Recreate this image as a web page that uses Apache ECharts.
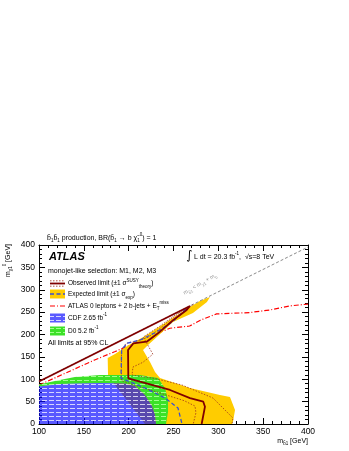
<!DOCTYPE html>
<html>
<head>
<meta charset="utf-8">
<script src="https://cdn.jsdelivr.net/npm/echarts@6/dist/echarts.min.js"></script>
<style>
html, body { margin: 0; padding: 0; background: #fff; }
#chart { width: 349px; height: 451px; }
</style>
</head>
<body>
<div id="chart"></div>
<script>
// axis ranges (GeV)
var xMin = 100, xMax = 400, xStep = 50;
var yMin = 0, yMax = 400, yStep = 50;

// kinematic boundary m_b1 = m_chi + m_b
var kinematic = [[100, 95.5], [400, 395.5]];

// observed limit (runs along the diagonal, then the contour)
var observed = [[100, 95], [268.4, 263.7], [264.7, 254.7], [249.8, 232.4], [234.9, 206.3],
    [227.5, 195.1], [220.1, 183.9], [205.2, 180.3], [199.3, 165.4], [199.6, 102.1],
    [212.6, 94.5], [246.1, 76], [268.4, 58], [283.2, 49.8], [285.1, 38.7], [281.4, 0]];
var theoryUp = [[272, 267], [251.7, 243.6], [235, 219], [216.3, 194.4], [227, 156],
    [216, 138], [204.8, 127.4], [203.7, 109.5], [229.4, 101.7], [259.5, 87.1],
    [294, 58.1], [316.3, 13.4], [315.2, 0]];
var theoryDown = [[262, 255], [248, 236], [234, 212], [222, 194], [210, 186], [197, 180],
    [192, 165], [192, 97], [208, 86], [240, 66], [262, 52], [274, 40], [275, 25], [272, 0]];

// expected limit and its +-1 sigma band
var expected = [[263.9, 257], [249.8, 230.2], [231.3, 205.6], [212.6, 187.7], [198.1, 180.3],
    [192.2, 165.4], [191.4, 102.8], [218.2, 80.4], [240.5, 58.1], [255, 35.8], [259.5, 0]];
var expBand = [[290.7, 283.8], [287.3, 272.6], [271.7, 248], [249.4, 228], [233, 197],
    [221.6, 176.5], [216, 165.4], [223.8, 138.5], [229.4, 116.2], [234.9, 102.8],
    [251.7, 91.6], [268.4, 80.4], [301.8, 64.8], [313, 60.3], [318.6, 31.3], [316.3, 4.5],
    [315.2, 0], [218.2, 0], [184.8, 87.2], [177, 107.3], [176.6, 147.5], [184.8, 156.4],
    [199.3, 175.4], [218.2, 196.6], [240.5, 225.6], [262.8, 254.7], [279.5, 274.8]];

// ATLAS 0 lepton + 2 b-jets
var atlas0l = [[100, 87], [162, 143], [185, 162], [246, 214], [268, 219], [280, 232],
    [298, 246], [335, 249], [358, 255], [380, 264], [400, 268]];

// Tevatron limits
var d0Area = [[100, 88], [117.8, 96], [140, 105], [168, 109.5], [212.6, 109.5], [232.7, 102.8],
    [240.5, 80.4], [243.9, 53.6], [243.9, 26.8], [241.6, 0]];
var cdfArea = [[100, 84], [123.4, 89.4], [168, 91.6], [195.9, 90.5], [207.1, 84.9],
    [218.2, 64.8], [226, 40.2], [229.4, 20.1], [230.5, 0]];

var FONT = '"Liberation Sans", Arial, sans-serif';
var brown = '#800000', theoryCol = '#a0301a', blueLine = '#3a4fd0', yellow = '#ffcc00';

function hatch(bg, line, w, h) {
    var c = document.createElement('canvas');
    c.width = w; c.height = h;
    var g = c.getContext('2d');
    g.fillStyle = bg; g.fillRect(0, 0, w, h);
    g.fillStyle = line; g.fillRect(0, 0, w - 2, 1);
    return { image: c, repeat: 'repeat' };
}
var cdfFill = hatch('rgba(10,10,255,0.68)', 'rgba(255,255,255,0.75)', 7, 4);
var d0Fill = hatch('rgb(60,225,40)', 'rgb(160,255,140)', 7, 4);

function polygon(points, fill, z) {
    return {
        type: 'custom', z: z, silent: true, animation: false,
        data: [[250, 200]],
        renderItem: function (params, api) {
            var pts = points.map(function (p) { return api.coord(p); });
            return { type: 'polygon', shape: { points: pts }, style: { fill: fill, stroke: null } };
        }
    };
}
function line(data, color, width, type, z) {
    return {
        type: 'line', data: data, symbol: 'none', z: z, silent: true, animation: false,
        lineStyle: { color: color, width: width, type: type }
    };
}

var dom = document.getElementById('chart');
var myChart = echarts.init(dom, null, { renderer: 'canvas' });

var tickStyle = { inside: true, length: 6, lineStyle: { color: '#000', width: 1 } };
var minorStyle = { show: true, splitNumber: 5, length: 3, lineStyle: { color: '#000', width: 1 } };
function axis(pos, labels) {
    return {
        type: 'value', position: pos, min: pos === 'bottom' || pos === 'top' ? xMin : yMin,
        max: pos === 'bottom' || pos === 'top' ? xMax : yMax,
        interval: pos === 'bottom' || pos === 'top' ? xStep : yStep,
        axisLine: { show: true, onZero: false, lineStyle: { color: '#000', width: 1 } },
        axisTick: tickStyle, minorTick: minorStyle, splitLine: { show: false },
        axisLabel: { show: labels, color: '#000', fontFamily: FONT, fontSize: 8.5, margin: pos === 'bottom' ? 3 : 4 }
    };
}

var rs = {
    n: { fontSize: 6.5, fontFamily: FONT, fill: '#000', lineHeight: 11, verticalAlign: 'middle' },
    t: { fontSize: 7, fontFamily: FONT, fill: '#000', lineHeight: 11, verticalAlign: 'middle' },
    u: { fontSize: 4.5, fontFamily: FONT, fill: '#000', lineHeight: 6, verticalAlign: 'top' },
    d: { fontSize: 4.5, fontFamily: FONT, fill: '#000', lineHeight: 6, verticalAlign: 'bottom' }
};
function txt(x, y, text, extra) {
    var o = { type: 'text', x: x, y: y, silent: true,
        style: { text: text, rich: rs, verticalAlign: 'middle', align: 'left', fill: '#000', font: '7px ' + FONT } };
    if (extra) for (var k in extra) o[k] = extra[k];
    return o;
}
function seg(x1, y1, x2, y2, color, w, dash) {
    return { type: 'line', silent: true, shape: { x1: x1, y1: y1, x2: x2, y2: y2 },
        style: { stroke: color, lineWidth: w, lineDash: dash || null } };
}

var option = {
    backgroundColor: '#fff',
    animation: false,
    grid: { left: 39, right: 41, top: 245, bottom: 27, containLabel: false },
    xAxis: [axis('bottom', true), axis('top', false)],
    yAxis: [axis('left', true), axis('right', false)],
    series: [
        line(atlas0l, '#ff0000', 1.2, [5, 2, 1, 2], 1),
        polygon(expBand, yellow, 2),
        polygon(d0Area.concat(cdfArea.slice().reverse()), d0Fill, 3),
        polygon([[100, 0]].concat(cdfArea), cdfFill, 4),
        line(kinematic, '#8a8a8a', 1, [3, 2], 5),
        line(theoryUp, theoryCol, 0.8, [1.5, 1.5], 6),
        line(theoryDown, theoryCol, 0.8, [1.5, 1.5], 6),
        line(expected, blueLine, 1.3, [4, 2.5], 7),
        line(observed, brown, 1.8, 'solid', 8)
    ],
    graphic: [
        txt(47, 238, '{t|b̃}{d|1}{t|b̃}{d|1}{t| production, BR(b̃}{d|1}{t| → b }{t|χ̃}{d|1}{u|0}{t|) = 1}'),
        { type: 'text', x: 49, y: 257, silent: true,
          style: { text: 'ATLAS', font: 'italic bold 11px ' + FONT, fill: '#000', verticalAlign: 'middle' } },
        txt(48, 271, '{t|monojet-like selection: M1, M2, M3}'),
        seg(50, 280.8, 65, 280.8, theoryCol, 0.8, [1.5, 1.5]),
        seg(50, 283.5, 65, 283.5, brown, 1.8),
        seg(50, 286.2, 65, 286.2, theoryCol, 0.8, [1.5, 1.5]),
        txt(68, 283.5, '{n|Observed limit (±1 σ}{u|SUSY}{d|theory}{n|)}'),
        { type: 'rect', silent: true, shape: { x: 50, y: 289.5, width: 15, height: 9 }, style: { fill: yellow } },
        seg(50, 294, 65, 294, blueLine, 1.3, [4, 2.5]),
        txt(68, 294.5, '{n|Expected limit (±1 σ}{d|exp}{n|)}'),
        seg(50, 306, 65, 306, '#ff0000', 1.2, [5, 2, 1, 2]),
        txt(68, 306, '{n|ATLAS 0 leptons + 2 b-jets + E}{d|T}{u|miss}'),
        { type: 'rect', silent: true, shape: { x: 50, y: 313.5, width: 15, height: 9 }, style: { fill: cdfFill } },
        txt(68, 318, '{n|CDF 2.65 fb}{u|-1}'),
        { type: 'rect', silent: true, shape: { x: 50, y: 326.5, width: 15, height: 9 }, style: { fill: d0Fill } },
        txt(68, 331, '{n|D0 5.2 fb}{u|-1}'),
        txt(48, 343, '{t|All limits at 95% CL}'),
        { type: 'text', x: 186, y: 256, silent: true,
          style: { text: '∫', font: '12px "DejaVu Sans", sans-serif', fill: '#000', verticalAlign: 'middle' } },
        txt(194, 257, '{t|L dt = 20.3 fb}{u|-1}{t|,  √s=8 TeV}'),
        txt(200, 284, '{n|m}{d|b̃1}{n| < m}{d|χ̃1}{n| + m}{d|b}', {
            rotation: 30 * Math.PI / 180,
            style: { text: '{n|m}{d|b̃1}{n| < m}{d|χ̃1}{n| + m}{d|b}', align: 'center', verticalAlign: 'middle',
                rich: {
                    n: { fontSize: 5.5, fontFamily: FONT, fill: '#999', lineHeight: 9, verticalAlign: 'middle' },
                    d: { fontSize: 4, fontFamily: FONT, fill: '#999', lineHeight: 5, verticalAlign: 'bottom' }
                } }
        }),
        txt(308, 441, '{t|m}{d|b̃1}{t| [GeV]}', {
            style: { text: '{t|m}{d|b̃1}{t| [GeV]}', rich: rs, align: 'right', verticalAlign: 'middle' } }),
        txt(8, 244, '{t|m}{d|χ̃1}{u|0}{t| [GeV]}', {
            rotation: Math.PI / 2,
            style: { text: '{t|m}{d|χ̃1}{u|0}{t| [GeV]}', rich: rs, align: 'right', verticalAlign: 'middle' } })
    ]
};

if (option && typeof option === 'object') {
    myChart.setOption(option, true);
}
</script>
</body>
</html>
